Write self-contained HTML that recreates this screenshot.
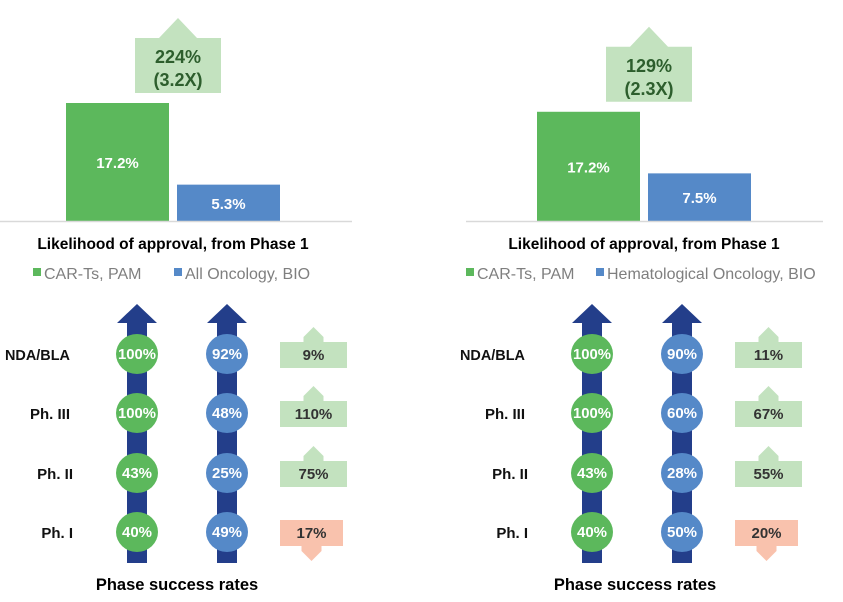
<!DOCTYPE html>
<html><head><meta charset="utf-8"><style>
body{margin:0;background:#fff}
svg{display:block;font-family:"Liberation Sans",Arial,sans-serif}
</style></head><body>
<svg id="c" width="843" height="602" viewBox="0 0 843 602" xmlns="http://www.w3.org/2000/svg"></svg>
<script>
const seriesA=[17.2,5.3];
const seriesB=[17.2,7.5];
const calloutA=["224%","(3.2X)"];
const calloutB=["129%","(2.3X)"];
const legendA=["CAR-Ts, PAM","All Oncology, BIO"];
const legendB=["CAR-Ts, PAM","Hematological Oncology, BIO"];
const phases=["NDA/BLA","Ph. III","Ph. II","Ph. I"];
const carA=[100,100,43,40];
const refA=[92,48,25,49];
const diffA=[9,110,75,-17];
const carB=[100,100,43,40];
const refB=[90,60,28,50];
const diffB=[11,67,55,-20];

const svg=document.getElementById('c');
const NS='http://www.w3.org/2000/svg';
function el(tag,attrs,parent){const e=document.createElementNS(NS,tag);for(const k in attrs)e.setAttribute(k,attrs[k]);(parent||svg).appendChild(e);return e;}
function txt(x,y,s,attrs){const t=el('text',Object.assign({x:x,y:y,'text-anchor':'middle'},attrs));t.textContent=s;return t;}

function panel(ox,barOx,vals,scale,callout,legend,legendX,car,ref,diff,axisX0,axisX1,titleX,bottomTitleX){
  const g=el('g',{});
  
  
  const base=221;
  const y=v=>base-v*scale;
  const colors=['#5cb85c','#5589c8'];
  const bx=[barOx+66,barOx+177];
  vals.forEach((v,i)=>{
    const r=el('rect',{x:bx[i],y:y(v),width:103,height:base-y(v),fill:colors[i]},g);
    
    
    const t=txt(bx[i]+51.5,(y(v)+base)/2+6,v.toFixed(1)+'%',{fill:'#fff','font-size':'15','font-weight':'bold'});
    
    
  });
  el('line',{x1:axisX0,x2:axisX1,y1:base+0.5,y2:base+0.5,stroke:'#d9d9d9','stroke-width':1.5},g);
  const top=y(vals[0])-10, bxx=barOx+135, bw=86, bh=55;
  const by=top-bh, cx=bxx+bw/2;
  const co=el('polygon',{points:`${bxx},${by} ${cx-19},${by} ${cx},${by-20} ${cx+19},${by} ${bxx+bw},${by} ${bxx+bw},${top} ${bxx},${top}`,fill:'#c3e2bf'},g);
  
  
  txt(cx,by+25,callout[0],{fill:'#2d5e2d','font-size':'18','font-weight':'bold'});
  txt(cx,by+48,callout[1],{fill:'#2d5e2d','font-size':'18','font-weight':'bold'});
  const ti=txt(titleX,249,'Likelihood of approval, from Phase 1',{fill:'#000','font-size':'15.5','font-weight':'bold'});
  
  
  legend.forEach((s,i)=>{
    const lx=legendX[i];
    const sq=el('rect',{x:lx,y:268,width:8,height:8,fill:colors[i]},g);
    
    
    const t=txt(lx+11,279,s,{'text-anchor':'start',fill:'#7f7f7f','font-size':'16'});
    
    
  });
  const ax=[ox+137,ox+227];
  ax.forEach(a=>{
    const ar=el('polygon',{points:`${a-10},563 ${a-10},323 ${a-20},323 ${a},304 ${a+20},323 ${a+10},323 ${a+10},563`,fill:'#233e8a'},g);
    
    
  });
  const rows=[354,413,473,532];
  phases.forEach((p,i)=>{
    const ry=rows[i];
    const la={'text-anchor':'end',fill:'#111','font-size':'15','font-weight':'bold'};
    if(i==0){la.textLength='65';la.lengthAdjust='spacingAndGlyphs';}
    const lt=txt(ox+70+(i>=2?3:0),ry+6,p,la);
    
    
    [[car,'#5cb85c',ax[0]],[ref,'#5589c8',ax[1]]].forEach(([arr,col,x])=>{
      const c=el('ellipse',{cx:x,cy:ry,rx:21,ry:20,fill:col},g);
      
      
      const s=arr[i]+'%';
      const ta={fill:'#fff','font-size':'15','font-weight':'bold'};
      if(s.length>3){ta.textLength='38';ta.lengthAdjust='spacingAndGlyphs';}
      txt(x,ry+5,s,ta);
    });
    const d=diff[i], x0=ox+280, x1=ox+347, mx=(x0+x1)/2, t0=ry-12, t1=ry+14;
    let pts;
    if(d>=0) pts=`${x0},${t0} ${mx-10},${t0} ${mx-10},${t0-5} ${mx},${t0-15} ${mx+10},${t0-5} ${mx+10},${t0} ${x1},${t0} ${x1},${t1} ${x0},${t1}`;
    else pts=`${x0},${t0} ${x1-4},${t0} ${x1-4},${t1} ${mx+8},${t1} ${mx+8},${t1+5} ${mx-2},${t1+15} ${mx-12},${t1+5} ${mx-12},${t1} ${x0},${t1}`;
    const b=el('polygon',{points:pts,fill:d>=0?'#c3e2bf':'#f9c2ad'},g);
    
    
    txt(d>=0?mx:mx-2,ry+6,Math.abs(d)+'%',{fill:'#333','font-size':'15','font-weight':'bold'});
  });
  const bt=txt(bottomTitleX,590,'Phase success rates',{fill:'#000','font-size':'16.5','font-weight':'bold'});
  
  
}
panel(0,0,seriesA,6.86,calloutA,legendA,[33,174],carA,refA,diffA,0,352,173,177);
panel(455,471,seriesB,6.35,calloutB,legendB,[466,596],carB,refB,diffB,466,823,644,635);
</script>
</body></html>
